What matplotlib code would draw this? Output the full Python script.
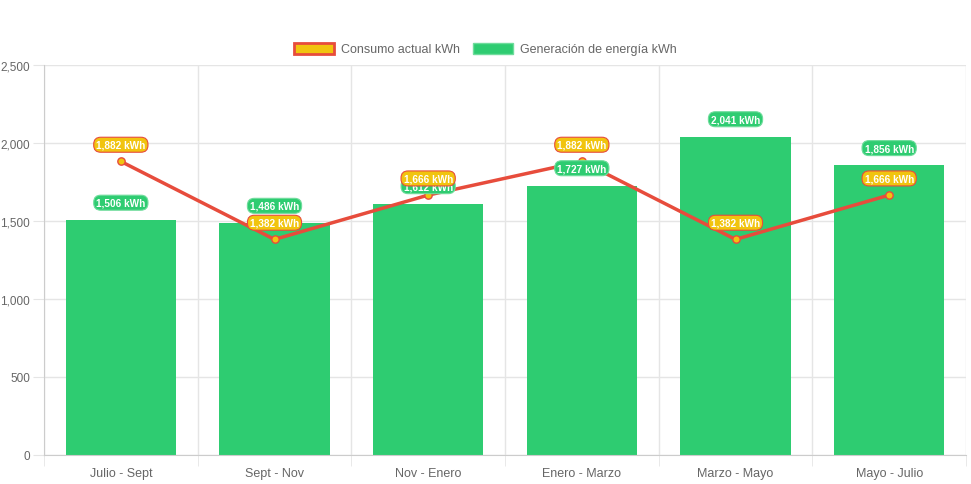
import matplotlib
matplotlib.use("Agg")
from matplotlib import pyplot as plt
from matplotlib.patches import Patch
from matplotlib.ticker import FuncFormatter, MultipleLocator
import numpy as np

periodos = ["Julio - Sept", "Sept - Nov", "Nov - Enero", "Enero - Marzo", "Marzo - Mayo", "Mayo - Julio"]
consumo = [1882, 1382, 1666, 1882, 1382, 1666]
generacion = [1506, 1486, 1612, 1727, 2041, 1856]

verde = "#2ecc71"
rojo = "#e74c3c"
amarillo = "#f1c40f"
gris = "#666666"

plt.rcParams["font.family"] = ["Liberation Sans", "DejaVu Sans"]

fig = plt.figure(figsize=(9.71, 4.85), dpi=100)
ax = fig.add_axes([44 / 971, 29 / 485, 922 / 971, 390 / 485])

x = np.arange(len(periodos))
ax.bar(x, generacion, width=0.72, color=verde, zorder=2)
ax.plot(x, consumo, color=rojo, linewidth=2.5, zorder=3)
ax.scatter(x, consumo, s=28, color=amarillo, edgecolor=rojo, linewidth=1, zorder=4)

for xi, v in zip(x, generacion):
    ax.annotate(f"{v:,} kWh", (xi, v), xytext=(0, 12.5), textcoords="offset points",
                ha="center", va="center", fontsize=7.2, fontweight="bold", color="white",
                bbox=dict(boxstyle="round,pad=0.25,rounding_size=0.7", fc=verde, ec="#6fdc9c", lw=0.8),
                zorder=5)
for xi, v in zip(x, consumo):
    ax.annotate(f"{v:,} kWh", (xi, v), xytext=(0, 12), textcoords="offset points",
                ha="center", va="center", fontsize=7.2, fontweight="bold", color="white",
                bbox=dict(boxstyle="round,pad=0.25,rounding_size=0.7", fc=amarillo, ec=rojo, lw=0.8),
                zorder=6)

ax.set_xlim(-0.5, len(periodos) - 0.5)
ax.set_ylim(0, 2500)
ax.yaxis.set_major_locator(MultipleLocator(500))
ax.yaxis.set_major_formatter(FuncFormatter(lambda v, p: f"{int(v):,}"))
ax.set_xticks(x)
ax.set_xticklabels(periodos)
ax.set_xticks(np.arange(len(periodos) + 1) - 0.5, minor=True)

ax.grid(axis="y", color="#e5e5e5", linewidth=1, zorder=0)
ax.grid(axis="x", which="minor", color="#e5e5e5", linewidth=1, zorder=0)
ax.tick_params(axis="x", which="major", length=0, labelsize=9, colors=gris, pad=9)
ax.tick_params(axis="x", which="minor", length=8, color="#e5e5e5")
ax.tick_params(axis="y", length=8, color="#e5e5e5", labelsize=8.5, labelcolor=gris, pad=2)

for s in ["top", "right"]:
    ax.spines[s].set_visible(False)
ax.spines["left"].set_color("#cccccc")
ax.spines["bottom"].set_color("#cccccc")

handles = [Patch(facecolor=amarillo, edgecolor=rojo, linewidth=2, label="Consumo actual kWh"),
           Patch(facecolor=verde, edgecolor="#6fdc9c", linewidth=1, label="Generación de energía kWh")]
fig.legend(handles=handles, loc="center", bbox_to_anchor=(0.5, 1 - 50 / 485), ncol=2, frameon=False,
           fontsize=9, labelcolor=gris, handlelength=3.2, handleheight=1.0, columnspacing=1.0, handletextpad=0.6)

fig.savefig("out.png", dpi=100)
